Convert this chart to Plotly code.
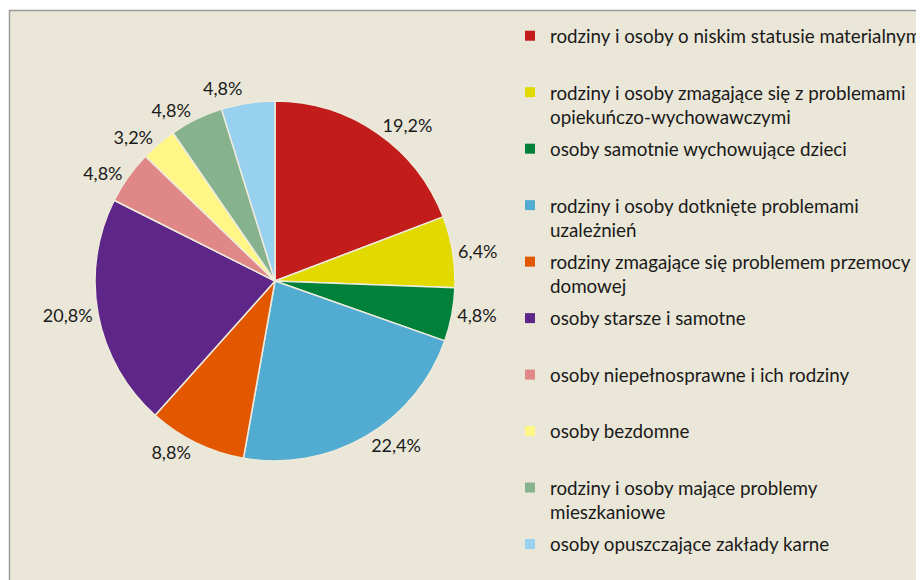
import plotly.graph_objects as go

kategorie = [
    "rodziny i osoby o niskim statusie materialnym",
    "rodziny i osoby zmagające się z problemami<br>opiekuńczo-wychowawczymi",
    "osoby samotnie wychowujące dzieci",
    "rodziny i osoby dotknięte problemami<br>uzależnień",
    "rodziny zmagające się problemem przemocy<br>domowej",
    "osoby starsze i samotne",
    "osoby niepełnosprawne i ich rodziny",
    "osoby bezdomne",
    "rodziny i osoby mające problemy<br>mieszkaniowe",
    "osoby opuszczające zakłady karne",
]
udzial_proc = [19.2, 6.4, 4.8, 22.4, 8.8, 20.8, 4.8, 3.2, 4.8, 4.8]
kolory = ["#C21D1A", "#E2D900", "#00813A", "#52ABD0", "#E25700",
          "#5F2689", "#E08787", "#FFF685", "#86B28E", "#98D0F0"]

# wykres jest szerszy niz okno - w oryginale legenda jest ucieta z prawej
W, H = 950, 580
OFF = 8  # margines body strony html
FONT = "Lato"
TXT = "#1a1a1a"
TLO = "#EBE7D8"

cx, cy, r = 275 - OFF, 281 - OFF, 180

fig = go.Figure()

fig.add_trace(go.Pie(
    labels=kategorie,
    values=udzial_proc,
    sort=False,
    direction="clockwise",
    rotation=0,
    marker=dict(colors=kolory, line=dict(color="#EEEBDD", width=1.5)),
    # kolor tekstu w spanie, zeby linie laczace zlaly sie z tlem
    texttemplate="<span style='color:" + TXT + "'>%{value:.1f}%</span>",
    textposition="outside",
    outsidetextfont=dict(family=FONT, size=18, color=TLO),
    showlegend=False,
    hoverinfo="label+percent",
    domain=dict(x=[(cx - r) / W, (cx + r) / W],
                y=[(H - cy - r) / H, (H - cy + r) / H]),
))

# legenda jak w Excelu - kazda pozycja zajmuje dwie linie
for nazwa, kolor in zip(kategorie, kolory):
    tekst = nazwa if "<br>" in nazwa else nazwa + "<br>\u00a0"
    fig.add_trace(go.Scatter(
        x=[None], y=[None], mode="markers",
        marker=dict(symbol="square", size=10, color=kolor),
        name=tekst, legendgroup=nazwa, hoverinfo="skip",
    ))

fig.update_layout(
    width=W, height=H,
    margin=dict(l=0, r=0, t=0, b=0),
    paper_bgcolor="white",
    plot_bgcolor="rgba(0,0,0,0)",
    separators=", ",
    font=dict(family=FONT, color=TXT),
    xaxis=dict(visible=False),
    yaxis=dict(visible=False),
    legend=dict(
        x=502 / W, xanchor="left",
        y=1 - 11 / H, yanchor="top",
        valign="top",
        bgcolor="rgba(0,0,0,0)",
        font=dict(family=FONT, size=18.8, color=TXT),
        tracegroupgap=4.6,
        itemclick=False, itemdoubleclick=False,
    ),
    shapes=[dict(
        type="rect", xref="paper", yref="paper", layer="below",
        x0=(9.5 - OFF) / W, x1=1.05, y0=-0.05, y1=1 - (10.5 - OFF) / H,
        fillcolor=TLO, line=dict(color="#9A9A9A", width=1.5),
    )],
)

fig.write_html("out.html")
